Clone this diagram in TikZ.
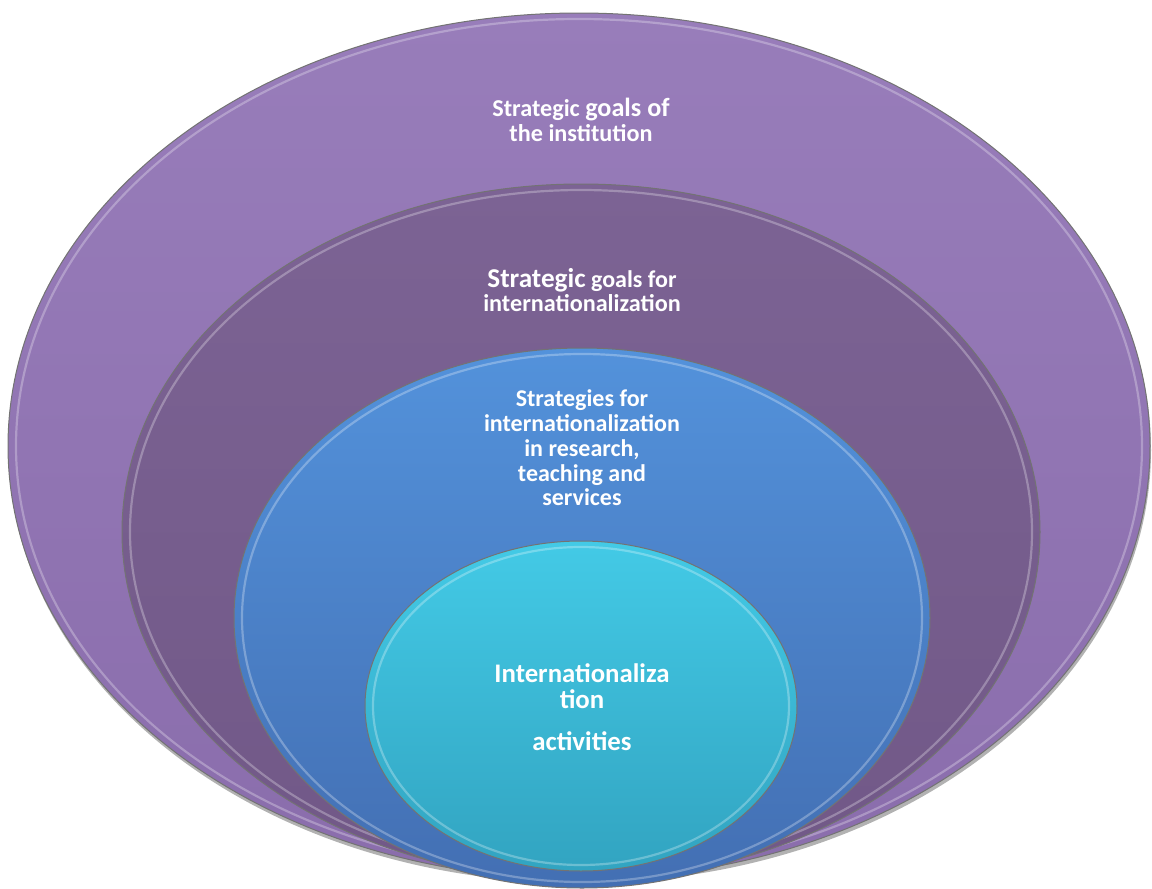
\documentclass[tikz,border=0pt]{standalone}
\usepackage{fontspec}
\setmainfont{Carlito}
\usetikzlibrary{shapes.geometric}
\definecolor{instTop}{HTML}{987DBA}
\definecolor{instBot}{HTML}{8A6DAC}
\definecolor{goalTop}{HTML}{7C6394}
\definecolor{goalBot}{HTML}{715887}
\definecolor{stratTop}{HTML}{5392DB}
\definecolor{stratBot}{HTML}{436FB3}
\definecolor{actTop}{HTML}{43CAE6}
\definecolor{actBot}{HTML}{32A4C1}

\begin{document}
\begin{tikzpicture}[x=0.5pt,y=-0.5pt,
    ring/.style={ellipse,inner sep=0pt,outer sep=0pt,draw=black!55,line width=0.5pt},
    rim/.style={ellipse,inner sep=0pt,outer sep=0pt,draw=white,draw opacity=0.28,line width=1.1pt},
    lbl/.style={align=center,text=white,font=\bfseries\fontsize{12.1}{12.2}\selectfont}]
    \useasboundingbox (0,0) rectangle (1152,889);
    % Schatten unter dem aeusseren Ring
    \node[ellipse,inner sep=0pt,fill=black,opacity=0.3,minimum width=571pt,minimum height=433pt] (shadow) at (580,450) {};
    % vier Ellipsen, alle unten beruehrend
    \foreach \n/\cx/\cy/\rx/\ry/\ct/\cb in {inst/579/446/571/433/instTop/instBot,
        goal/581/532/459/348/goalTop/goalBot,
        strat/582/618/348/270/stratTop/stratBot,
        act/581/706/216/165/actTop/actBot} {
        \pgfmathsetmacro\rw{\rx-8}
        \pgfmathsetmacro\rh{\ry-6}
        \node[ring,top color=\ct,bottom color=\cb,minimum width=\rx pt,minimum height=\ry pt] (\n) at (\cx,\cy) {};
        \node[rim,minimum width=\rw pt,minimum height=\rh pt] (\n-rim) at (\cx,\cy) {};
    }
    % Beschriftungen
    \node[lbl] (instText) at (581,120) {{\fontsize{12.1}{12.2}\selectfont Strategic} {\fontsize{13.1}{12.2}\selectfont goals of}\\the institution};
    \node[lbl] (goalText) at (582,290) {{\fontsize{13.6}{12.4}\selectfont Strategic} {\fontsize{12}{12.4}\selectfont goals for}\\internationalization};
    \node[lbl,font=\bfseries\fontsize{12}{12.4}\selectfont] (stratText) at (582,448) {Strategies for\\internationalization\\in research,\\teaching and\\services};
    \node[lbl,font=\bfseries\fontsize{13.4}{13}\selectfont] (actText) at (582,707) {Internationaliza\\tion\\[8pt]activities};
\end{tikzpicture}
\end{document}
